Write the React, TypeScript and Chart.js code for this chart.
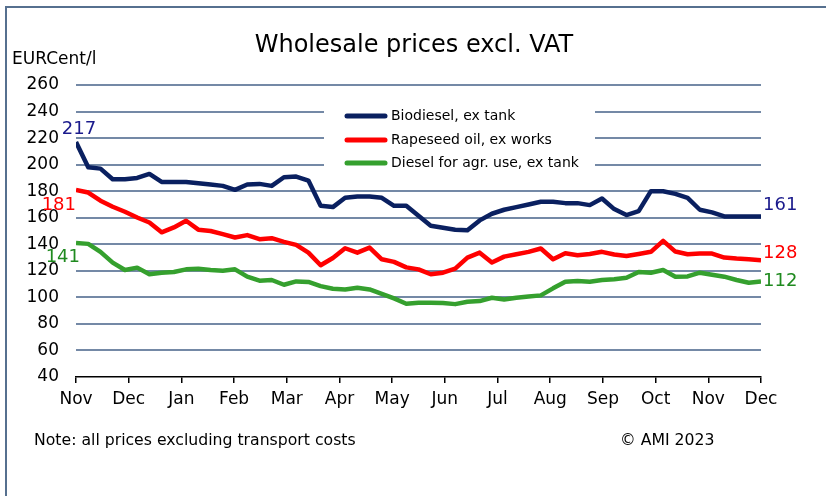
import React, { useEffect, useRef } from "react";
import { Chart, registerables } from "chart.js";

Chart.register(...registerables);

const monthLabels = ["Nov", "Dec", "Jan", "Feb", "Mar", "Apr", "May", "Jun", "Jul", "Aug", "Sep", "Oct", "Nov", "Dec"];
const yTicks = [40, 60, 80, 100, 120, 140, 160, 180, 200, 220, 240, 260];

const biodiesel = [217, 198, 197, 189, 189, 190, 193, 187, 187, 187, 186, 185, 184, 181, 185, 185.5, 184, 190.5, 191, 188, 169, 168, 175, 176, 176, 175, 169, 169, 161.5, 154, 152.5, 151, 150.5, 158, 163, 166, 168, 170, 172, 172, 171, 171, 169.5, 174.5, 166.5, 162, 165, 180, 180, 178, 175, 166, 164, 161, 161, 161, 161];
const rapeseed = [181, 179, 172.8, 168.3, 164.5, 160.2, 156.4, 149, 152.7, 157.7, 151, 150, 147.6, 145.1, 146.9, 143.8, 144.6, 141.8, 139.5, 133.7, 124.2, 129.7, 137, 133.7, 137.5, 128.7, 126.7, 122.6, 121.1, 117.4, 118.6, 121.6, 130, 133.7, 126.2, 130.7, 132.5, 134.3, 136.8, 128.7, 133.2, 131.7, 132.7, 134.3, 132.3, 131.2, 132.7, 134.3, 142.6, 134.5, 132.5, 133, 133, 130, 129.2, 128.7, 128];
const diesel = [141, 140.3, 134.3, 126.2, 120.6, 122.4, 117.4, 118.6, 119.1, 121.1, 121.6, 120.6, 120.1, 121.1, 115.6, 112.6, 113.1, 109.5, 112, 111.6, 108.5, 106.5, 106, 107.3, 106, 102.7, 99.2, 95.2, 95.9, 95.9, 95.7, 94.9, 96.7, 97.2, 99.7, 98.4, 99.7, 100.7, 101.5, 106.8, 111.8, 112.3, 111.8, 113.1, 113.7, 114.8, 119.1, 118.6, 120.6, 115.6, 115.8, 118.6, 117.1, 115.6, 113.1, 111, 112];

const seriesNames = ["Biodiesel, ex tank", "Rapeseed oil, ex works", "Diesel for agr. use, ex tank"];
const seriesColors = ["#0a2060", "#ff0000", "#35a02e"];
const labelColors = ["#1a1a8c", "#ff0000", "#1f8a1f"];
const firstLabels = ["217", "181", "141"];
const lastLabels = ["161", "128", "112"];

const titleText = "Wholesale prices excl. VAT";
const unitText = "EURCent/l";
const noteText = "Note: all prices excluding transport costs";
const copyText = "\u00a9 AMI 2023";

const FONT = "'DejaVu Sans', sans-serif";

function toPoints(values: number[]) {
  const span = monthLabels.length - 1;
  return values.map((v, i) => ({ x: (i * span) / (values.length - 1), y: v }));
}

const decorPlugin = {
  id: "decor",
  beforeDraw(chart: any) {
    const ctx = chart.ctx;
    ctx.save();
    ctx.fillStyle = "#ffffff";
    ctx.fillRect(0, 0, chart.width, chart.height);
    ctx.strokeStyle = "#56708f";
    ctx.lineWidth = 2;
    ctx.beginPath();
    ctx.moveTo(6, 496);
    ctx.lineTo(6, 7);
    ctx.lineTo(826, 7);
    ctx.stroke();
    ctx.restore();
  },
  afterDatasetsDraw(chart: any) {
    const ctx = chart.ctx;
    const xs = chart.scales.x;
    const ys = chart.scales.y;
    ctx.save();
    ctx.fillStyle = "#ffffff";
    ctx.fillRect(324, 99, 271, 76);
    const rows = [116, 140, 163];
    seriesNames.forEach((name, i) => {
      ctx.strokeStyle = seriesColors[i];
      ctx.lineWidth = 5;
      ctx.lineCap = "round";
      ctx.beginPath();
      ctx.moveTo(347, rows[i]);
      ctx.lineTo(385, rows[i]);
      ctx.stroke();
      ctx.fillStyle = "#000000";
      ctx.font = "14px " + FONT;
      ctx.textAlign = "left";
      ctx.textBaseline = "middle";
      ctx.fillText(name, 391, rows[i]);
    });
    const series = [biodiesel, rapeseed, diesel];
    const firstOff = [
      { dx: 3, dy: -13, align: "center" },
      { dx: 0, dy: 15, align: "right" },
      { dx: 4, dy: 14, align: "right" },
    ];
    const lastOff = [-11, -7, 0];
    ctx.font = "18px " + FONT;
    ctx.textBaseline = "middle";
    series.forEach((vals, i) => {
      const x0 = xs.getPixelForValue(0);
      const y0 = ys.getPixelForValue(vals[0]);
      ctx.fillStyle = labelColors[i];
      ctx.textAlign = firstOff[i].align;
      ctx.fillText(firstLabels[i], x0 + firstOff[i].dx, y0 + firstOff[i].dy);
      const x1 = xs.getPixelForValue(monthLabels.length - 1);
      const y1 = ys.getPixelForValue(vals[vals.length - 1]);
      ctx.textAlign = "left";
      ctx.fillText(lastLabels[i], x1 + 2, y1 + lastOff[i]);
    });
    ctx.restore();
  },
  afterDraw(chart: any) {
    const ctx = chart.ctx;
    ctx.save();
    ctx.fillStyle = "#000000";
    ctx.textBaseline = "middle";
    ctx.textAlign = "center";
    ctx.font = "24px " + FONT;
    ctx.fillText(titleText, 414, 46);
    ctx.textAlign = "left";
    ctx.font = "17px " + FONT;
    ctx.fillText(unitText, 12, 60);
    ctx.font = "15.7px " + FONT;
    ctx.fillText(noteText, 34, 441);
    ctx.fillText(copyText, 620, 441);
    ctx.restore();
  },
};

export default function App() {
  const canvasRef = useRef<HTMLCanvasElement | null>(null);

  useEffect(() => {
    document.body.style.margin = "0";
    const canvas = canvasRef.current;
    if (!canvas) return;
    const chart = new Chart(canvas, {
      type: "line",
      data: {
        datasets: [biodiesel, rapeseed, diesel].map((vals, i) => ({
          label: seriesNames[i],
          data: toPoints(vals),
          borderColor: seriesColors[i],
          backgroundColor: seriesColors[i],
          borderWidth: 4.5,
          pointRadius: 0,
          tension: 0,
          borderJoinStyle: "round" as const,
        })),
      },
      options: {
        responsive: false,
        animation: false,
        devicePixelRatio: 1,
        layout: { padding: { left: 0, right: 65, top: 85, bottom: 79 } },
        plugins: {
          legend: { display: false },
          title: { display: false },
          tooltip: { enabled: false },
        },
        scales: {
          x: {
            type: "linear",
            min: 0,
            max: monthLabels.length - 1,
            afterFit: (s: any) => {
              s.height = 40;
            },
            afterBuildTicks: (s: any) => {
              s.ticks = monthLabels.map((_, i) => ({ value: i }));
            },
            ticks: {
              autoSkip: false,
              maxRotation: 0,
              color: "#000000",
              font: { family: FONT, size: 17 },
              padding: 6,
              callback: (v: any) => monthLabels[Math.round(Number(v))] ?? "",
            },
            grid: {
              display: true,
              drawOnChartArea: false,
              drawTicks: true,
              tickLength: 6,
              color: "#000000",
              lineWidth: 1.5,
            },
            border: { display: true, color: "#000000", width: 1.5 },
          },
          y: {
            min: 40,
            max: 260,
            afterFit: (s: any) => {
              s.width = 76;
            },
            afterBuildTicks: (s: any) => {
              s.ticks = yTicks.map((v) => ({ value: v }));
            },
            ticks: {
              color: "#000000",
              font: { family: FONT, size: 17 },
              padding: 17,
            },
            grid: {
              drawTicks: false,
              color: (c: any) => (c.tick && c.tick.value === 40 ? "rgba(0,0,0,0)" : "#7489a6"),
              lineWidth: 2,
            },
            border: { display: false },
          },
        },
      },
      plugins: [decorPlugin],
    });
    return () => chart.destroy();
  }, []);

  return (
    <div style={{ position: "fixed", left: 0, top: 0, width: 826, height: 496 }}>
      <canvas ref={canvasRef} width={826} height={496} style={{ width: 826, height: 496, display: "block" }} />
    </div>
  );
}
